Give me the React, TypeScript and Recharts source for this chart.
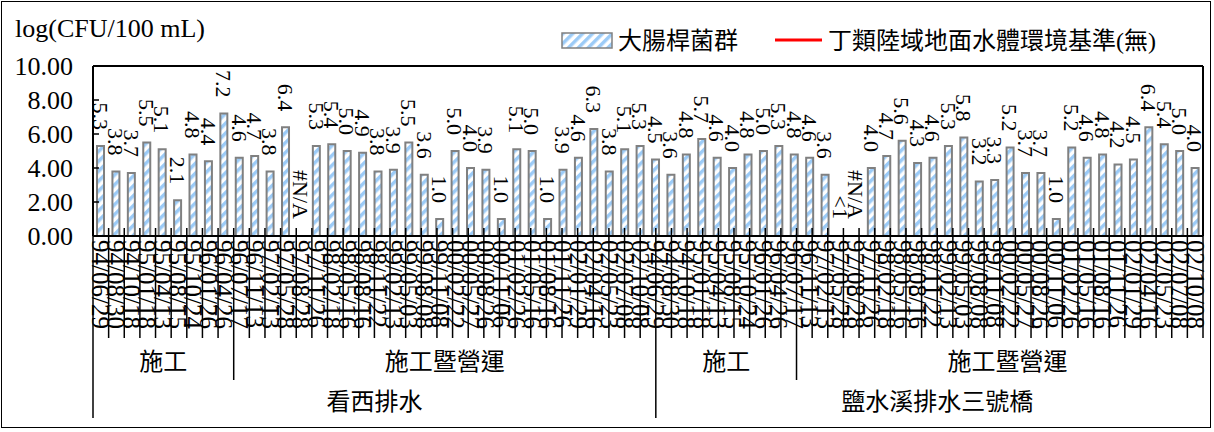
import { Bar, BarChart, LabelList, XAxis, YAxis } from "recharts";

const FONT = '"Liberation Serif", "Noto Sans CJK TC", serif';

// sampling dates (same schedule at both stations)
const sampleDates = [
  "94/06/29", "94/08/30", "94/10/18", "95/01/18", "95/04/13", "95/08/15",
  "95/10/24", "96/01/26", "96/04/26", "96/07/17", "96/11/13", "97/02/13",
  "97/05/28", "97/08/28", "97/11/26", "98/02/18", "98/05/16", "98/08/16",
  "98/11/22", "99/02/13", "99/05/03", "99/08/08", "99/11/08", "00/02/22",
  "00/05/27", "00/08/26", "00/11/06", "01/02/26", "01/05/16", "01/08/16",
  "01/11/26", "02/01/29", "02/04/16", "02/05/23", "02/07/08", "02/10/08",
];

const sites = ["看西排水", "鹽水溪排水三號橋"];
const phases = ["施工", "施工暨營運"];
const phaseCounts = [9, 27];

// log(CFU/100 mL); strings are shown as text with no bar
const kanxi: (number | string)[] = [
  5.3, 3.8, 3.7, 5.5, 5.1, 2.1, 4.8, 4.4, 7.2,
  4.6, 4.7, 3.8, 6.4, "#N/A", 5.3, 5.4, 5.0, 4.9, 3.8, 3.9, 5.5, 3.6, 1.0,
  5.0, 4.0, 3.9, 1.0, 5.1, 5.0, 1.0, 3.9, 4.6, 6.3, 3.8, 5.1, 5.3,
];
const yanshui: (number | string)[] = [
  4.5, 3.6, 4.8, 5.7, 4.6, 4.0, 4.8, 5.0, 5.3,
  4.8, 4.6, 3.6, "<1", "#N/A", 4.0, 4.7, 5.6, 4.3, 4.6, 5.3, 5.8, 3.2, 3.3,
  5.2, 3.7, 3.7, 1.0, 5.2, 4.6, 4.8, 4.2, 4.5, 6.4, 5.4, 5.0, 4.0,
];

const yTicks = [0, 2, 4, 6, 8, 10];

const rows = [...kanxi, ...yanshui].map((v, i) => ({
  date: sampleDates[i % sampleDates.length],
  coliform: typeof v === "number" ? v : 0,
  label: typeof v === "number" ? v.toFixed(1) : "",
  note: typeof v === "number" ? "" : v,
}));

const total = rows.length;
const perSite = sampleDates.length;

// boundaries / centres in category units for the grouped axis levels
const siteBreaks = sites.map((_, s) => s * perSite).concat(total);
const phaseBreaks: number[] = [];
const phaseCenters: number[] = [];
const phaseNames: string[] = [];
sites.forEach((_, s) => {
  let start = s * perSite;
  phaseCounts.forEach((n, p) => {
    phaseBreaks.push(start);
    phaseCenters.push(start + n / 2);
    phaseNames.push(phases[p]);
    start += n;
  });
});
phaseBreaks.push(total);
const siteCenters = sites.map((_, s) => s * perSite + perSite / 2);
const allBreaks = Array.from({ length: total + 1 }, (_, i) => i);

function BoundaryTick(props: any) {
  const { x, y, payload } = props;
  const v = payload.value;
  let len = 102;
  if (siteBreaks.includes(v)) len = 182;
  else if (phaseBreaks.includes(v)) len = 144;
  return <line x1={x} x2={x} y1={y - 9} y2={y + len - 1} stroke="#000" strokeWidth={1.5} />;
}

function rotatedText(x: number, y: number, text: string, size: number, anchor: string) {
  return (
    <text
      x={x}
      y={y}
      dy="0.35em"
      textAnchor={anchor}
      transform={`rotate(90 ${x} ${y})`}
      fontSize={size}
      fontFamily={FONT}
      fill="#000"
    >
      {text}
    </text>
  );
}

function DateTick(props: any) {
  const { x, y, payload, index } = props;
  const note = rows[index]?.note;
  return (
    <g>
      {rotatedText(x, y + 4, payload.value, 25, "start")}
      {note ? rotatedText(x, y - 17, note, 22, "end") : null}
    </g>
  );
}

function PhaseTick(props: any) {
  const { x, y, index } = props;
  return (
    <text x={x} y={y + 132} textAnchor="middle" fontSize={24} fontFamily={FONT} fill="#000">
      {phaseNames[index]}
    </text>
  );
}

function SiteTick(props: any) {
  const { x, y, index } = props;
  return (
    <text x={x} y={y + 171} textAnchor="middle" fontSize={24} fontFamily={FONT} fill="#000">
      {sites[index]}
    </text>
  );
}

function ValueLabel(props: any) {
  const { x, y, width, value } = props;
  if (!value) return null;
  return rotatedText(x + width / 2, y - 16, value, 22, "end");
}

export default function App() {
  return (
    <div style={{ position: "absolute", left: 0, top: 0, width: 1214, height: 432, background: "#fff" }}>
      <svg width={1214} height={432} style={{ position: "absolute", left: 0, top: 0 }}>
        <defs>
          <pattern id="hatch" width="7" height="7" patternUnits="userSpaceOnUse" patternTransform="rotate(45)">
            <rect width="7" height="7" fill="#fff" />
            <rect width="3.5" height="7" fill="#9ccbf7" />
          </pattern>
        </defs>
        <rect x={1.5} y={1.5} width={1209} height={426} fill="none" stroke="#000" strokeWidth={1} />
        <text x={15} y={37} fontSize={26} fontFamily={FONT} fill="#000">
          log(CFU/100 mL)
        </text>
        <rect x={562} y={33} width={50} height={15} fill="url(#hatch)" stroke="#808080" strokeWidth={1.5} />
        <text x={618} y={49} fontSize={24} fontFamily={FONT} fill="#000">
          大腸桿菌群
        </text>
        <line x1={775} x2={822} y1={40} y2={40} stroke="#ff0000" strokeWidth={3} />
        <text x={828} y={49} fontSize={24} fontFamily={FONT} fill="#000">
          丁類陸域地面水體環境基準(無)
        </text>
      </svg>
      <div style={{ position: "absolute", left: 0, top: 0 }}>
        <BarChart
          width={1214}
          height={432}
          data={rows}
          margin={{ top: 65, right: 10, bottom: 192, left: 0 }}
          barCategoryGap="26%"
        >
          <XAxis
            xAxisId="cat"
            dataKey="date"
            interval={0}
            height={1}
            tickSize={0}
            tickMargin={0}
            tickLine={false}
            axisLine={{ stroke: "#000", strokeWidth: 2 }}
            tick={<DateTick />}
          />
          <XAxis
            xAxisId="grid"
            type="number"
            domain={[0, total]}
            ticks={allBreaks}
            interval={0}
            height={1}
            tickSize={0}
            tickMargin={0}
            axisLine={false}
            tickLine={false}
            tick={<BoundaryTick />}
            allowDataOverflow
          />
          <XAxis
            xAxisId="phase"
            type="number"
            domain={[0, total]}
            ticks={phaseCenters}
            interval={0}
            height={1}
            tickSize={0}
            tickMargin={0}
            axisLine={false}
            tickLine={false}
            tick={<PhaseTick />}
            allowDataOverflow
          />
          <XAxis
            xAxisId="site"
            type="number"
            domain={[0, total]}
            ticks={siteCenters}
            interval={0}
            height={1}
            tickSize={0}
            tickMargin={0}
            axisLine={false}
            tickLine={false}
            tick={<SiteTick />}
            allowDataOverflow
          />
          <XAxis
            xAxisId="frameTop"
            orientation="top"
            type="number"
            domain={[0, total]}
            height={1}
            tick={false}
            tickLine={false}
            axisLine={{ stroke: "#000", strokeWidth: 2 }}
          />
          <YAxis
            domain={[0, 10]}
            ticks={yTicks}
            interval={0}
            width={93}
            tickSize={-6}
            tickMargin={26}
            tickFormatter={(v: number) => v.toFixed(2)}
            tick={{ fill: "#000", fontSize: 26, fontFamily: FONT }}
            tickLine={{ stroke: "#000", strokeWidth: 1.5 }}
            axisLine={{ stroke: "#000", strokeWidth: 2 }}
          />
          <YAxis
            yAxisId="frameRight"
            orientation="right"
            domain={[0, 10]}
            width={1}
            tick={false}
            tickLine={false}
            axisLine={{ stroke: "#000", strokeWidth: 2 }}
          />
          <Bar
            xAxisId="cat"
            dataKey="coliform"
            fill="url(#hatch)"
            stroke="#808080"
            strokeWidth={2}
            isAnimationActive={false}
          >
            <LabelList dataKey="label" content={<ValueLabel />} />
          </Bar>
        </BarChart>
      </div>
    </div>
  );
}
